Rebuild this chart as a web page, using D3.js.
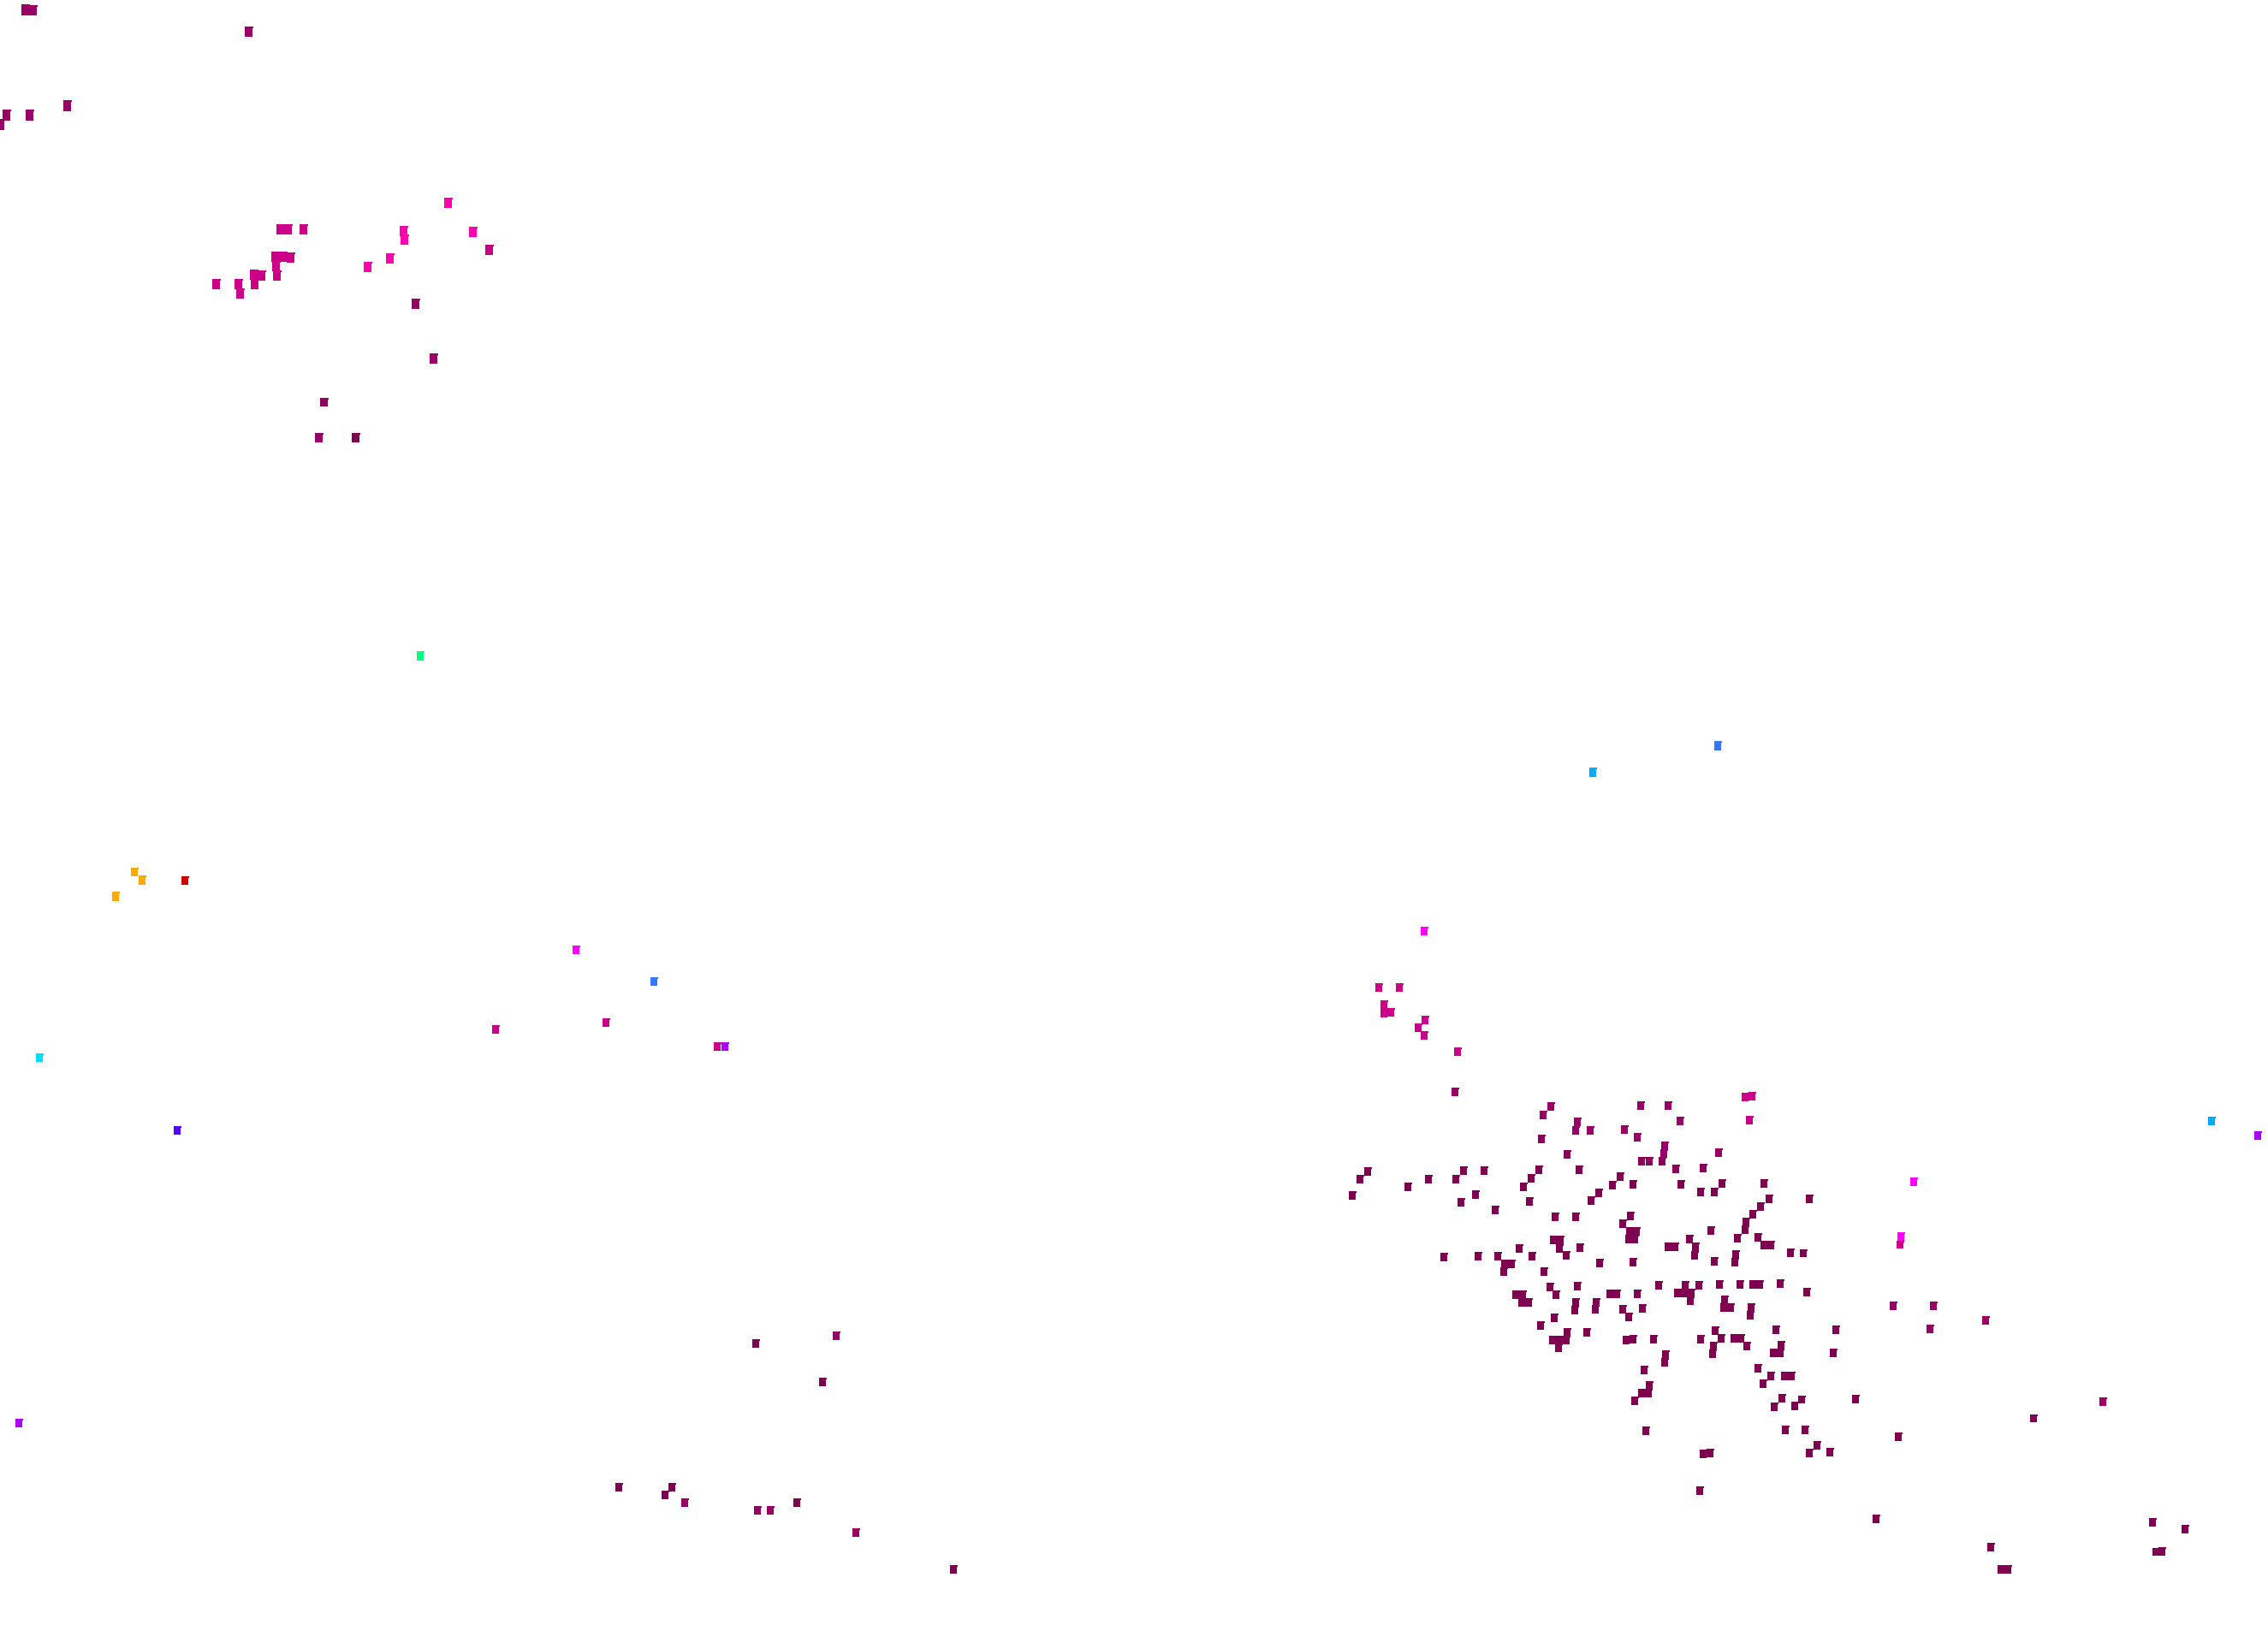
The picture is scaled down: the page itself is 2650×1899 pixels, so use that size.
<!DOCTYPE html>
<html><head><meta charset="utf-8">
<style>html,body{margin:0;padding:0;background:#fff}svg{display:block}</style>
<script src="https://cdnjs.cloudflare.com/ajax/libs/d3/7.8.5/d3.min.js"></script>
</head><body><div id="chart"></div>
<script>
// Value scale: colour stops
const colorStops = ["#7f0050","#990066","#cc0088","#ff00aa","#ff00ff","#aa00ff","#5500ff","#3377ff","#00aaff","#00ddff","#00ff80","#ffaa00","#cc0000"];
const colorDomain = [0,1,2,3,4,5,6,7,8,9,10,11,12];

// Grid cells by value band: [x, y] on a 2650 x 1899 grid
const band0 = [[1710,1368.3],[1733.9,1368.3],[1597.7,1369.3],[1589.3,1378.3],[1580.2,1397.3],[1644.7,1387.3],[1668.9,1378.3],[1700.9,1377.7],[1797.7,1367.3],[1788.9,1376.7],[1780.2,1386.7],[1845.4,1367.3],[1892.8,1375.3],[1884,1385.3],[1907.9,1384.3],[1964,1384.3],[1986.8,1393.3],[2012,1383.3],[2003.3,1392.7],[2060.5,1382.7],[2066.5,1401.3],[2057.4,1410.3],[2048.2,1419.3],[2039.8,1428.3],[2038.8,1436.7],[1867.5,1394.3],[1858.8,1403.3],[1724,1395.7],[1706.8,1405.3],[1746.5,1414],[1786.8,1404.3],[1817.4,1422.3],[1841.2,1422.3],[1905,1421.3],[1896.3,1430.3],[1903.7,1439.3],[1911.8,1439.3],[1902.6,1448.3],[1910.4,1448.3],[1815.3,1449.3],[1823.3,1449.3],[1822.3,1458.7],[1829.6,1467.3],[1846.1,1458.3],[1949.3,1457.3],[1957.4,1457.3],[1973.9,1448],[1981.2,1457.3],[1980.2,1466.7],[1998.8,1438.3],[2030,1447.3],[2053.9,1446.3],[2060.9,1455.3],[2068.9,1455.3],[2092.1,1464.3],[2027.9,1465.7],[2026.8,1474.7],[2003.3,1474.3],[1907.9,1475.3],[1868.6,1476.3],[1774.9,1459.3],[1790,1468.3],[1686.8,1469.3],[1726.5,1468.3],[1750.4,1468.3],[1758,1477.3],[1766,1477.3],[1757,1486],[1804.4,1486.3],[1811,1504.3],[1818,1513],[1843,1503.3],[1771,1513.3],[1778.8,1513.3],[1778,1522.3],[1785.8,1522.3],[1881.2,1512.3],[1889,1512.3],[1912.8,1511.7],[1937.7,1502.3],[1968.9,1502.3],[1985.1,1502.3],[1960.2,1511.3],[1968.2,1511.3],[1976,1511.3],[1974.9,1520.3],[2008.6,1501.3],[2032.5,1501.3],[2048.2,1501.3],[2056,1501.3],[2080.2,1500.3],[2014.9,1519.3],[2013.9,1528.3],[2021.9,1528.3],[2045.8,1528.3],[2045.1,1537.3],[1840.9,1521.7],[1839.8,1530.7],[1865,1521.7],[1864,1530.3],[1895.6,1530.3],[1902.6,1539.3],[1919.1,1529.3],[1816,1540],[1799.5,1549.3],[1831,1557.3],[1813.9,1566.3],[1821.9,1566.3],[1830,1566.3],[1820.9,1575.3],[1853.9,1557.3],[1900.2,1566.3],[1908.2,1565.3],[1932.1,1565.3],[1986.8,1565.3],[2003.7,1555.3],[2010.7,1564.3],[2026.1,1564.3],[2034.2,1564.3],[2040.9,1573.3],[2001.9,1573.3],[2000.9,1582.3],[2074.6,1554.3],[2080.9,1572.3],[2071.8,1581.3],[2079.8,1581.3],[1946.1,1583.3],[1945.1,1592.3],[2054.2,1599.3],[2068.9,1608.3],[2085,1608.3],[2092.8,1608.3],[2060.2,1617.3],[1920.9,1601.3],[1927.2,1619.3],[1918.4,1628.3],[1926.1,1628.3],[1910,1637.3],[2081.9,1634.3],[2073.2,1643.7],[2097,1643.3],[2114,1401],[2107,1464.5],[2111,1510],[2145,1554],[2142,1581],[2105,1635.5],[2168,1634.6],[2109,1671],[2086,1671],[2123,1688.6],[2114,1698],[2138,1697],[2217.5,1678.6],[2375.6,1657.5],[2191.6,1775],[2326,1808],[2338,1834],[2346,1834],[2515,1778.6],[2553,1787],[2518.7,1813.5],[2526,1812.7],[1922.6,1672.3],[1990,1698.7],[1998,1698],[1986,1742.3],[883,1570.3],[961,1615.3],[723,1738.3],[784.7,1738.3],[777,1747.3],[931,1756.3],[1114.3,1834.3],[415.7,512]];
const band05 = [[1800.5,1330.7],[1831.4,1349],[1942.3,1357.3],[1918.4,1357.3],[1926.5,1356.7],[1957.7,1365.7],[1990,1365.3],[378,470]];
const band1 = [[1699.8,1276.3],[1811.8,1293.3],[1802.6,1302.7],[1842.6,1311.3],[1841.2,1321],[1857.7,1320.7],[1898,1320.3],[1912.8,1329.3],[1916.7,1292.3],[1948.6,1292.3],[1963,1310.3],[1944.7,1338.7],[1943.7,1347.7],[2007.5,1347],[2211.5,1526],[2259,1526],[2319.5,1543],[2255,1553],[2456.5,1638],[977,1561.3],[800.3,1756.3],[885,1765],[900,1765],[1000,1791.3],[485.3,355.3],[506.3,419],[372.3,512],[29.3,11.3],[38.3,12],[290.7,37],[78.7,123.3],[7,134.3],[34,134.3],[0.7,145.3]];
const band2 = [[2038.8,1282.3],[2046.8,1281.3],[2044,1309.3],[2219.5,1454.5],[571.3,292],[327.7,267.7],[336.3,268.3],[354.3,268.3],[321.3,300.3],[330,300.3],[339.3,301],[322.3,311],[323.3,321.7],[296.3,321.3],[305.3,321.7],[297,332],[252,331.7],[278.7,332.3],[280.3,343],[1611,1154.3],[1635.3,1154.3],[1617.3,1174],[1617,1183.7],[1625.3,1182.7],[1665.3,1192],[1657,1201.3],[1664,1210.3],[1703.3,1229],[708,1195],[579,1203.3],[838,1223]];
const band3 = [[523.3,237.3],[471.3,269.7],[472,280.3],[552.3,270.7],[455.3,301.7],[429.3,312]];
const band4 = [[2236,1381],[2220.6,1445],[1664.3,1088],[673,1110]];
const band5 = [[2638,1327],[846.7,1223],[22,1662.7]];
const band6 = [[207,1321.3]];
const band7 = [[764,1147.3],[2007,871.7]];
const band8 = [[2584,1310],[1861.3,902.3]];
const band9 = [[46,1236.3]];
const band10 = [[491.3,766.7]];
const band11 = [[157,1019],[166,1028.7],[135,1047.7]];
const band12 = [[216,1029]];

const bandValues = [0,0.5,1,2,3,4,5,6,7,8,9,10,11,12];
const bandCells = [band0,band05,band1,band2,band3,band4,band5,band6,band7,band8,band9,band10,band11,band12];

const W = 2650, H = 1899;
const x = d3.scaleLinear().domain([0,2650]).range([0,W]);
const y = d3.scaleLinear().domain([0,1899]).range([0,H]);
const color = d3.scaleLinear().domain(colorDomain).range(colorStops).interpolate(d3.interpolateRgb);
// cells shrink toward the bottom of the projected grid
const cellW = d3.scaleThreshold().domain([600]).range([9,8]);
const cellH = d3.scaleThreshold().domain([150,450,1130]).range([12,11,10,9]);

const svg = d3.select("#chart").append("svg").attr("width",W).attr("height",H);
svg.append("rect").attr("width",W).attr("height",H).attr("fill","#fff");

const cells = bandValues.flatMap((v,i)=>bandCells[i].map(c=>({x:c[0],y:c[1],v})));
// Each cell is a small rectangle with a one-pixel nub at the top right, as the rasterised grid shows
const cellPath = d=>{
  const w=cellW(d.y), h=cellH(d.y), cx=x(d.x), cy=y(d.y);
  const l=Math.round(cx-w/2), r=l+w, t=Math.floor(cy-h/2), b=Math.ceil(cy+h/2), s=t+2;
  return `M${l},${t}H${r+1}V${s}H${r}V${b}H${l}Z`;
};
svg.append("g").attr("shape-rendering","crispEdges")
  .selectAll("path").data(cells).join("path")
  .attr("d",cellPath).attr("fill",d=>color(d.v));
</script></body></html>
